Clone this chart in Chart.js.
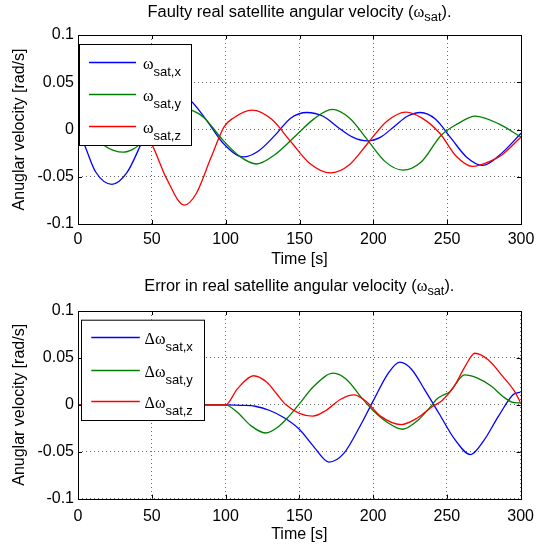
<!DOCTYPE html>
<html>
<head>
<meta charset="utf-8">
<script src="https://cdn.jsdelivr.net/npm/chart.js@4.4.1/dist/chart.umd.min.js"></script>
<style>
  html, body { margin: 0; padding: 0; background: #fff; }
  #wrap { position: relative; width: 542px; height: 547px; overflow: hidden; }
  canvas { position: absolute; left: 0; }
</style>
</head>
<body>
<div id="wrap">
  <canvas id="topChart" width="542" height="275" style="top:0"></canvas>
  <canvas id="bottomChart" width="542" height="277" style="top:270px"></canvas>
</div>
<script>
// axes
const xTicks = [0, 50, 100, 150, 200, 250, 300];
const yTicks = [-0.1, -0.05, 0, 0.05, 0.1];
const seriesColors = ['#0000ff', '#008000', '#ff0000'];
const legendSubs = ['sat,x', 'sat,y', 'sat,z'];

// faulty real satellite angular velocity (top)
const topTimeX = [0, 4.5, 12, 23, 33, 42.5, 52, 64, 76, 87, 98, 112, 122, 133.5, 144, 155, 166, 175.5, 186, 196, 205, 214, 223, 232, 242, 253, 263, 274, 287, 300];
const topValX  = [-0.002, -0.017, -0.045, -0.058, -0.046, -0.016, 0.018, 0.040, 0.031, 0.010, -0.014, -0.029, -0.023, -0.006, 0.012, 0.018, 0.014, 0.003, -0.008, -0.012, -0.008, 0.003, 0.014, 0.018, 0.011, -0.010, -0.029, -0.038, -0.025, -0.004];
const topTimeY = [0, 10, 17.7, 24, 30.7, 37, 41.6, 50, 60, 70, 76, 85, 98, 110, 121, 133, 146.5, 160, 172, 184, 196, 208, 220, 232, 246, 257, 269, 285, 300];
const topValY  = [0.012, -0.005, -0.017, -0.022, -0.024, -0.021, -0.016, -0.001, 0.016, 0.023, 0.021, 0.013, -0.011, -0.029, -0.0365, -0.027, -0.008, 0.0115, 0.0213, 0.012, -0.011, -0.034, -0.043, -0.035, -0.006, 0.006, 0.0142, 0.006, -0.008];
const topTimeZ = [0, 15, 30, 42, 50, 60, 72, 80, 90, 99, 105, 118, 131, 144, 157, 171, 184, 196.5, 209, 222, 233, 245, 256, 267, 280, 287, 300];
const topValZ  = [0.0, 0.018, 0.015, 0.0, -0.016, -0.052, -0.080, -0.068, -0.030, 0.003, 0.012, 0.0206, 0.011, -0.0127, -0.036, -0.046, -0.037, -0.014, 0.0085, 0.0184, 0.012, -0.004, -0.028, -0.039, -0.033, -0.027, -0.008];

// error in real satellite angular velocity (bottom)
const errTimeX = [0, 100, 110, 120, 130, 140, 150, 160, 170, 180, 190, 200, 210, 218, 226, 235, 245, 255, 266, 275, 285, 295, 300];
const errValX  = [0, 0, -0.0005, -0.0015, -0.006, -0.014, -0.026, -0.045, -0.061, -0.052, -0.026, 0.004, 0.033, 0.0455, 0.038, 0.016, -0.010, -0.036, -0.053, -0.038, -0.012, 0.011, 0.0135];
const errTimeY = [0, 100, 108, 117, 127, 136, 143, 150, 160, 173, 182, 192, 200, 210, 220, 230, 240, 243, 247, 252, 262, 270, 280, 288, 294, 300];
const errValY  = [0, 0, -0.008, -0.022, -0.030, -0.023, -0.012, 0.001, 0.020, 0.0337, 0.027, 0.008, -0.006, -0.019, -0.026, -0.017, 0.0, 0.006, 0.010, 0.014, 0.032, 0.029, 0.020, 0.009, 0.003, 0.002];
const errTimeZ = [0, 100, 108, 119, 128, 135, 141, 150, 159, 168, 178, 187, 195, 205, 219, 230, 240, 247, 255, 262, 269, 278, 288, 296, 300];
const errValZ  = [0, 0, 0.017, 0.031, 0.024, 0.011, 0.0, -0.009, -0.012, -0.006, 0.006, 0.0106, 0.004, -0.012, -0.021, -0.014, -0.002, 0.005, 0.020, 0.040, 0.055, 0.048, 0.030, 0.014, 0.002];

const sans = '"Liberation Sans", Arial, sans-serif';
const serif = '"Liberation Serif", "Times New Roman", serif';

function pts(ts, vs) {
  return ts.map((t, i) => ({ x: t, y: vs[i] }));
}

// draw a run of text pieces [text, font, dy] starting at x, baseline y
function drawRun(ctx, parts, x, y) {
  parts.forEach(p => {
    ctx.font = p[1];
    ctx.fillText(p[0], x, y + (p[2] || 0));
    x += ctx.measureText(p[0]).width;
  });
  return x;
}
function runWidth(ctx, parts) {
  let w = 0;
  parts.forEach(p => { ctx.font = p[1]; w += ctx.measureText(p[0]).width; });
  return w;
}

const decor = {
  id: 'decor',
  afterDatasetsDraw(chart, args, o) {
    const { ctx, chartArea: a, scales } = chart;
    ctx.save();
    // frame and inward ticks
    ctx.strokeStyle = '#000';
    ctx.lineWidth = 1;
    ctx.beginPath();
    xTicks.forEach(v => {
      const px = Math.round(scales.x.getPixelForValue(v)) + 0.5;
      ctx.moveTo(px, a.bottom); ctx.lineTo(px, a.bottom - 4);
      ctx.moveTo(px, a.top); ctx.lineTo(px, a.top + 4);
    });
    yTicks.forEach(v => {
      const py = Math.round(scales.y.getPixelForValue(v)) + 0.5;
      ctx.moveTo(a.left, py); ctx.lineTo(a.left + 4, py);
      ctx.moveTo(a.right, py); ctx.lineTo(a.right - 4, py);
    });
    ctx.stroke();
    ctx.strokeRect(Math.round(a.left) + 0.5, Math.round(a.top) + 0.5,
      Math.round(a.right - a.left), Math.round(a.bottom - a.top));

    // legend box inside the plot
    const L = o.legend;
    ctx.fillStyle = '#fff';
    ctx.fillRect(L.x1, L.y1, L.x2 - L.x1, L.y2 - L.y1);
    ctx.strokeStyle = '#000';
    ctx.lineWidth = 1;
    ctx.strokeRect(L.x1 + 0.5, L.y1 + 0.5, L.x2 - L.x1, L.y2 - L.y1);
    legendSubs.forEach((s, i) => {
      const ly = L.ly[i];
      ctx.lineWidth = 1.5;
      ctx.strokeStyle = seriesColors[i];
      ctx.beginPath();
      ctx.moveTo(L.lx1, ly); ctx.lineTo(L.lx2, ly);
      ctx.stroke();
      ctx.fillStyle = '#000';
      ctx.textBaseline = 'alphabetic';
      ctx.textAlign = 'left';
      drawRun(ctx, [[o.symbol, '16px ' + serif, 0], [s, '13px ' + sans, 7]], L.tx, ly + 6.5);
    });
    ctx.restore();
  },
  afterDraw(chart, args, o) {
    const { ctx, chartArea: a } = chart;
    const cx = (a.left + a.right) / 2;
    ctx.save();
    ctx.fillStyle = '#000';
    ctx.textAlign = 'left';
    ctx.textBaseline = 'alphabetic';
    // title with subscript, squeezed to the reference width
    const tparts = [[o.title, '16px ' + sans, 0], ['ω', '16px ' + serif, 0], ['sat', '12.5px ' + sans, 4], [').', '16px ' + sans, 0]];
    const w = runWidth(ctx, tparts);
    const k = o.titleWidth / w;
    ctx.save();
    ctx.translate(cx - o.titleWidth / 2, o.titleY + 5.6);
    ctx.scale(k, 1);
    drawRun(ctx, tparts, 0, 0);
    ctx.restore();
    // x axis title
    ctx.font = '16px ' + sans;
    ctx.textAlign = 'center';
    ctx.fillText('Time [s]', cx, o.timeY + 5.7);
    // y axis title
    ctx.save();
    ctx.translate(20, (a.top + a.bottom) / 2);
    ctx.rotate(-Math.PI / 2);
    ctx.textBaseline = 'middle';
    ctx.fillText('Anuglar velocity [rad/s]', 0, 0);
    ctx.restore();
    ctx.restore();
  }
};

function makeChart(id, series, o) {
  const canvas = document.getElementById(id);
  const H = canvas.height;
  return new Chart(canvas, {
    type: 'line',
    data: {
      datasets: series.map((d, i) => ({
        data: d,
        borderColor: seriesColors[i],
        borderWidth: 1.3,
        pointRadius: 0,
        fill: false,
        cubicInterpolationMode: 'monotone',
        order: 2 - i
      }))
    },
    options: {
      responsive: false,
      animation: false,
      events: [],
      layout: { padding: { top: o.plotTop, right: 21, left: 0, bottom: 0 } },
      scales: {
        x: {
          type: 'linear',
          min: 0, max: 300,
          afterFit: s => { s.height = H - o.plotBottom; },
          afterBuildTicks: s => { s.ticks = xTicks.map(v => ({ value: v })); },
          ticks: { color: '#000', font: { family: sans, size: 16 }, padding: o.xPad, maxRotation: 0, autoSkip: false },
          grid: { color: 'rgba(0,0,0,0.6)', lineWidth: 1, drawTicks: false },
          border: { display: false, dash: [1, 3] }
        },
        y: {
          type: 'linear',
          min: -0.1, max: 0.1,
          afterFit: s => { s.width = 78; },
          afterBuildTicks: s => { s.ticks = yTicks.map(v => ({ value: v })); },
          ticks: {
            color: '#000', font: { family: sans, size: 16 }, padding: 4,
            callback: v => String(Number(v.toFixed(3)))
          },
          grid: { color: 'rgba(0,0,0,0.6)', lineWidth: 1, drawTicks: false },
          border: { display: false, dash: [1, 3] }
        }
      },
      plugins: {
        legend: { display: false },
        tooltip: { enabled: false },
        title: { display: false },
        decor: o
      }
    },
    plugins: [decor]
  });
}

makeChart('topChart', [pts(topTimeX, topValX), pts(topTimeY, topValY), pts(topTimeZ, topValZ)], {
  plotTop: 35, plotBottom: 224, xPad: 5.5,
  title: 'Faulty real satellite angular velocity (', titleWidth: 304, titleY: 11.7, timeY: 258.3,
  symbol: 'ω',
  legend: { x1: 79, y1: 44, x2: 191, y2: 145, lx1: 89, lx2: 136, ly: [62.5, 94.5, 126.5], tx: 143 }
});

makeChart('bottomChart', [pts(errTimeX, errValX), pts(errTimeY, errValY), pts(errTimeZ, errValZ)], {
  plotTop: 41, plotBottom: 228.7, xPad: 8,
  title: 'Error in real satellite angular velocity (', titleWidth: 310, titleY: 15, timeY: 263.3,
  symbol: 'Δω',
  legend: { x1: 81, y1: 49.7, x2: 204, y2: 150, lx1: 91.3, lx2: 139.8, ly: [67.5, 100.5, 131.5], tx: 144.6 }
});
</script>
</body>
</html>
